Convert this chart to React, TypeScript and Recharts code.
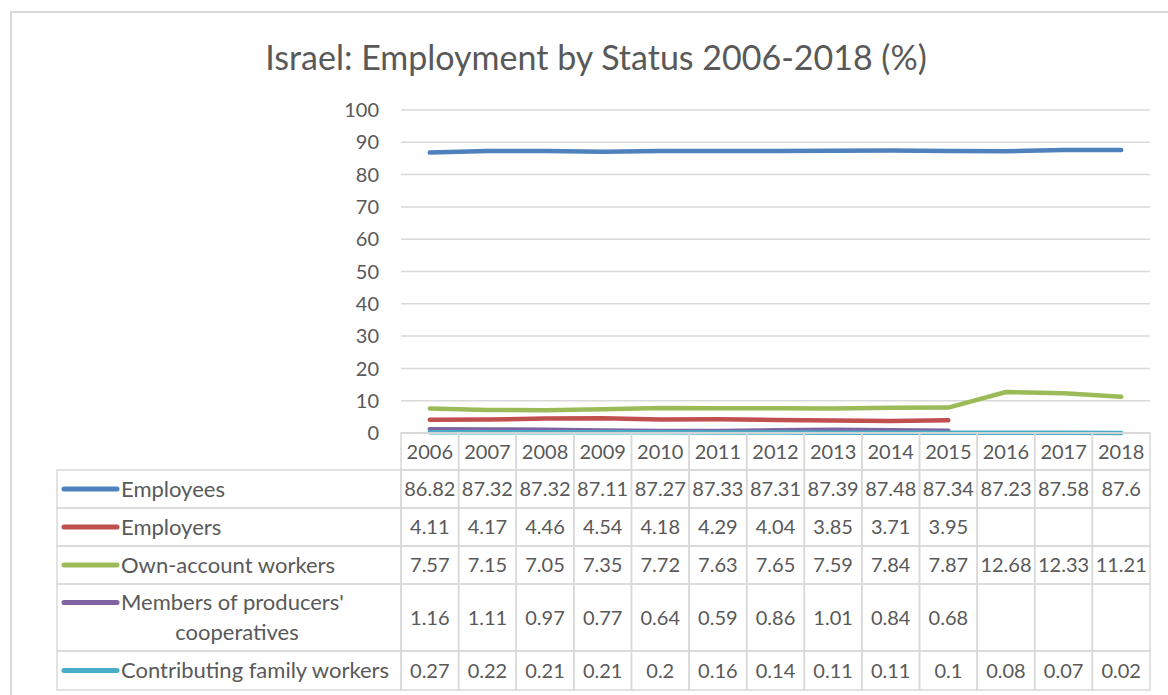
import React from 'react';
import { LineChart, Line, XAxis, YAxis, CartesianGrid } from 'recharts';

const years = ['2006', '2007', '2008', '2009', '2010', '2011', '2012', '2013', '2014', '2015', '2016', '2017', '2018'];
const employees = [86.82, 87.32, 87.32, 87.11, 87.27, 87.33, 87.31, 87.39, 87.48, 87.34, 87.23, 87.58, 87.6];
const employers = [4.11, 4.17, 4.46, 4.54, 4.18, 4.29, 4.04, 3.85, 3.71, 3.95, null, null, null];
const ownAccount = [7.57, 7.15, 7.05, 7.35, 7.72, 7.63, 7.65, 7.59, 7.84, 7.87, 12.68, 12.33, 11.21];
const members = [1.16, 1.11, 0.97, 0.77, 0.64, 0.59, 0.86, 1.01, 0.84, 0.68, null, null, null];
const contributing = [0.27, 0.22, 0.21, 0.21, 0.2, 0.16, 0.14, 0.11, 0.11, 0.1, 0.08, 0.07, 0.02];
const yTicks = [0, 10, 20, 30, 40, 50, 60, 70, 80, 90, 100];

const seriesList = [
  { key: 'employees', label: ['Employees'], color: '#4F81BD', values: employees },
  { key: 'employers', label: ['Employers'], color: '#C0504D', values: employers },
  { key: 'ownAccount', label: ['Own-account workers'], color: '#9BBB59', values: ownAccount },
  { key: 'members', label: ["Members of producers'", 'cooperatives'], color: '#8064A2', values: members },
  { key: 'contributing', label: ['Contributing family workers'], color: '#4BACC6', values: contributing },
];

const data = years.map((year, i) => {
  const row: Record<string, any> = { year };
  seriesList.forEach((s) => {
    row[s.key] = s.values[i];
  });
  return row;
});

const FONT = 'Lato, "Liberation Sans", sans-serif';
const TEXT = '#595959';
const GRID = '#D9D9D9';
const HEADER_H = 37;
const ROW_H = [38, 38, 38, 67, 39];
const LABEL_W = 344;
const FS = 20;
const LFS = 22;

function TableTick(props: any) {
  const { x, y, payload, index, width, visibleTicksCount } = props;
  const colW = width && visibleTicksCount ? width / visibleTicksCount : 57.6;
  const left = x - colW / 2;
  const cells: React.ReactNode[] = [];
  cells.push(
    <rect key="h" x={left} y={y} width={colW} height={HEADER_H} fill="none" stroke={GRID} strokeWidth={1.5} />
  );
  cells.push(
    <text key="ht" x={x} y={y + HEADER_H / 2} dy="0.36em" textAnchor="middle" fill={TEXT} fontSize={FS} fontFamily={FONT}>
      {payload.value}
    </text>
  );
  let top = y + HEADER_H;
  seriesList.forEach((s, r) => {
    const h = ROW_H[r];
    const v = s.values[index];
    cells.push(
      <rect key={'c' + r} x={left} y={top} width={colW} height={h} fill="none" stroke={GRID} strokeWidth={1.5} />
    );
    if (v !== null && v !== undefined) {
      cells.push(
        <text key={'t' + r} x={x} y={top + h / 2} dy="0.36em" textAnchor="middle" fill={TEXT} fontSize={FS} fontFamily={FONT}>
          {String(v)}
        </text>
      );
    }
    if (index === 0) {
      const lx = left - LABEL_W;
      cells.push(
        <rect key={'l' + r} x={lx} y={top} width={LABEL_W} height={h} fill="none" stroke={GRID} strokeWidth={1.5} />
      );
      const lineY = s.label.length > 1 ? top + h / 2 - 15 : top + h / 2;
      cells.push(
        <line key={'ln' + r} x1={lx + 7} x2={lx + 60} y1={lineY} y2={lineY} stroke={s.color} strokeWidth={5} strokeLinecap="round" />
      );
      cells.push(
        <text key={'lt' + r} x={lx + 64} y={lineY} dy="0.36em" textAnchor="start" fill={TEXT} fontSize={LFS} fontFamily={FONT}>
          {s.label[0]}
        </text>
      );
      if (s.label.length > 1) {
        cells.push(
          <text key={'lt2' + r} x={lx + 180} y={lineY + 30} dy="0.36em" textAnchor="middle" fill={TEXT} fontSize={LFS} fontFamily={FONT}>
            {s.label[1]}
          </text>
        );
      }
    }
    top += h;
  });
  return <g>{cells}</g>;
}

export default function App() {
  return (
    <div style={{ position: 'absolute', left: 0, top: 0, width: 1168, height: 695, overflow: 'hidden', background: '#fff' }}>
      <div
        style={{
          position: 'absolute',
          left: 10,
          top: 11,
          width: 1300,
          height: 900,
          borderLeft: '2px solid #D9D9D9',
          borderTop: '2px solid #D9D9D9',
        }}
      />
      <div
        style={{
          position: 'absolute',
          left: 596,
          top: 35,
          transform: 'translateX(-50%)',
          whiteSpace: 'nowrap',
          fontFamily: FONT,
          fontSize: 34,
          color: TEXT,
          lineHeight: '44px',
        }}
      >
        Israel: Employment by Status 2006-2018 (%)
      </div>
      <div style={{ position: 'absolute', left: 0, top: 0 }}>
        <LineChart width={1168} height={695} data={data} margin={{ top: 110, right: 18, bottom: 0, left: 0 }}>
          <CartesianGrid vertical={false} stroke={GRID} strokeWidth={1.5} />
          <XAxis
            dataKey="year"
            height={262}
            padding={{ left: 28.8, right: 28.8 }}
            axisLine={{ stroke: GRID, strokeWidth: 1.5 }}
            tickLine={false}
            tickSize={0}
            tickMargin={0}
            interval={0}
            tick={<TableTick />}
          />
          <YAxis
            width={401}
            domain={[0, 100]}
            ticks={yTicks}
            axisLine={false}
            tickLine={false}
            tickSize={0}
            tickMargin={22}
            tick={{ fill: TEXT, fontSize: FS, fontFamily: FONT }}
          />
          {seriesList.map((s) => (
            <Line
              key={s.key}
              dataKey={s.key}
              type="linear"
              stroke={s.color}
              strokeWidth={4.5}
              strokeLinecap="round"
              strokeLinejoin="round"
              dot={false}
              activeDot={false}
              isAnimationActive={false}
            />
          ))}
        </LineChart>
      </div>
    </div>
  );
}
